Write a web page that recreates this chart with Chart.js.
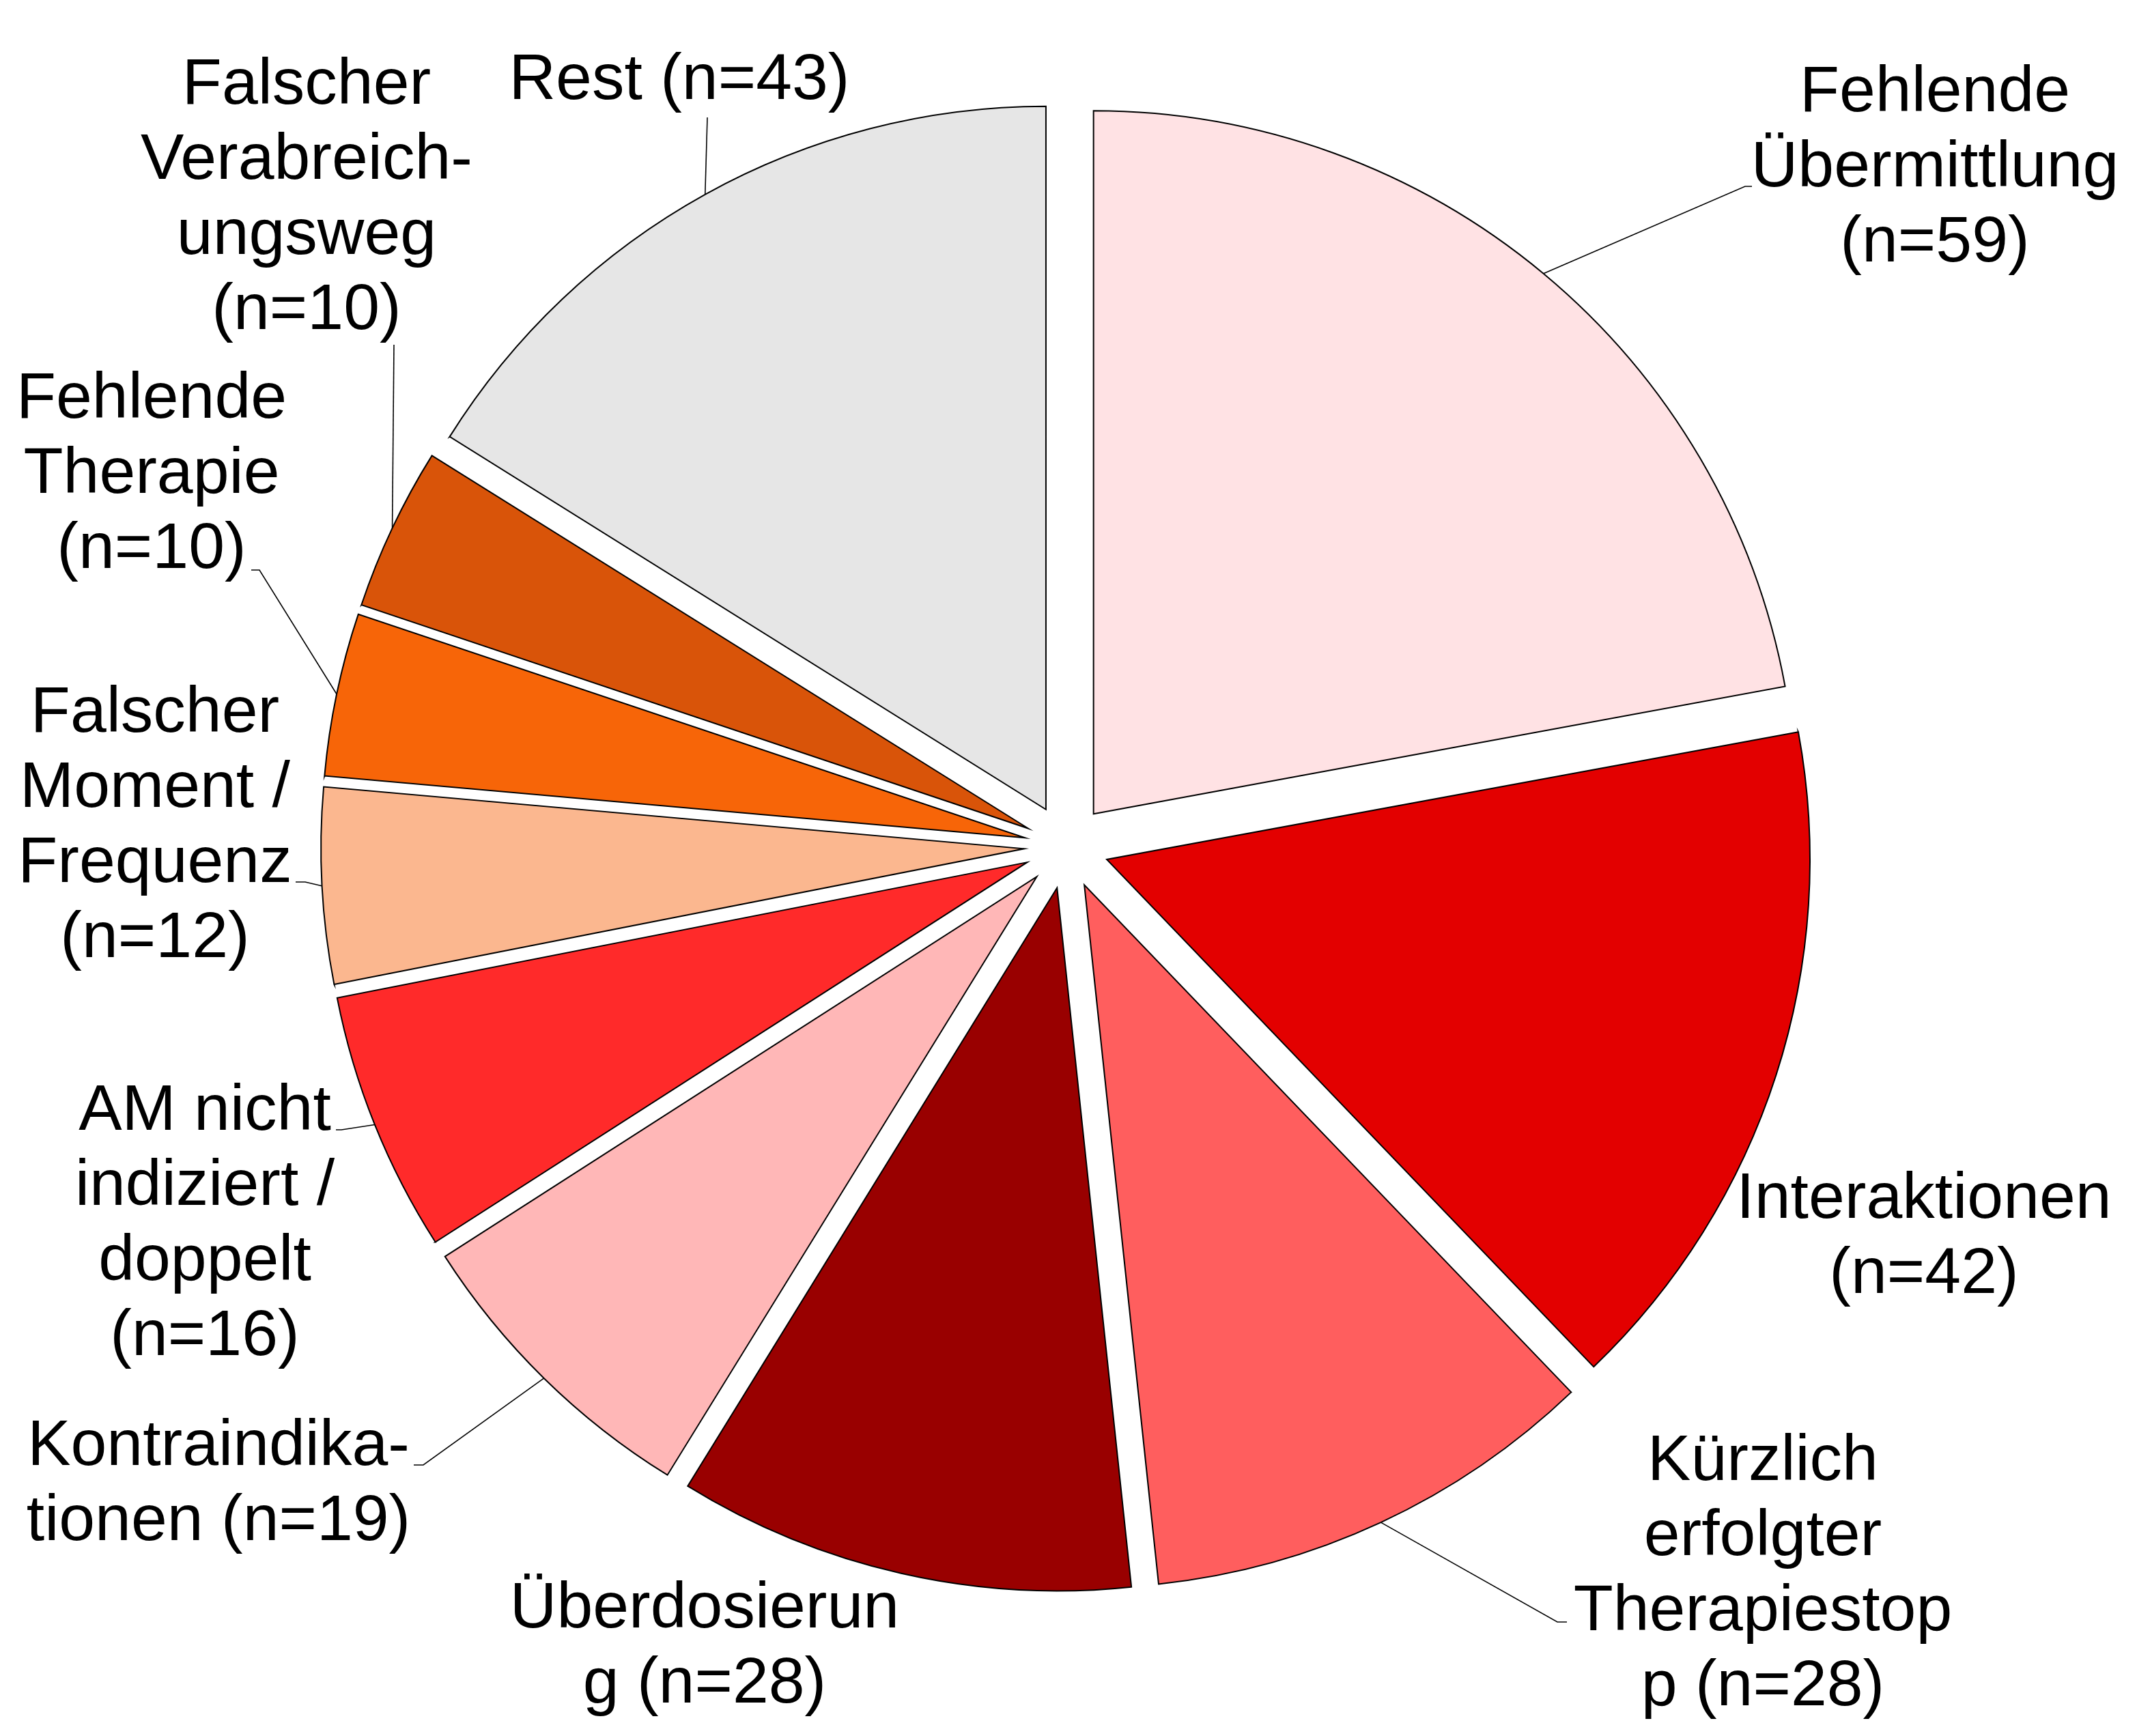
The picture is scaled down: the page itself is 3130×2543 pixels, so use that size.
<!DOCTYPE html>
<html>
<head>
<meta charset="utf-8">
<script src="https://cdn.jsdelivr.net/npm/chart.js@4.4.0/dist/chart.umd.min.js"></script>
<style>
  html, body { margin: 0; padding: 0; background: #ffffff; }
  #wrap { width: 3130px; height: 2543px; }
</style>
</head>
<body>
<div id="wrap"><canvas id="c" width="3130" height="2543"></canvas></div>
<script>
// ---- data ----
const categories = [
  'Fehlende Übermittlung', 'Interaktionen', 'Kürzlich erfolgter Therapiestopp',
  'Überdosierung', 'Kontraindikationen', 'AM nicht indiziert / doppelt',
  'Falscher Moment / Frequenz', 'Fehlende Therapie', 'Falscher Verabreichungsweg', 'Rest'
];
const counts = [59, 42, 28, 28, 19, 16, 12, 10, 10, 43];
// wrapped display text of each label; {n} is replaced by "(n=<count>)"
const labelLines = [
  ['Fehlende', 'Übermittlung', '{n}'],
  ['Interaktionen', '{n}'],
  ['Kürzlich', 'erfolgter', 'Therapiestop', 'p {n}'],
  ['Überdosierun', 'g {n}'],
  ['Kontraindika-', 'tionen {n}'],
  ['AM nicht', 'indiziert /', 'doppelt', '{n}'],
  ['Falscher', 'Moment /', 'Frequenz', '{n}'],
  ['Fehlende', 'Therapie', '{n}'],
  ['Falscher', 'Verabreich-', 'ungsweg', '{n}'],
  ['Rest {n}']
];

// ---- styles ----
const sliceColors = ['#FFE2E4', '#E30000', '#FF5E5E', '#990000', '#FFB7B7',
                     '#FF2A2A', '#FBB78F', '#F76508', '#D95409', '#E6E6E6'];
const FONT = '95px "Liberation Sans", Arial, sans-serif';
const LINE_H = 110;
const RADIUS = 1030;
const EXPLODE = 62;
// label placement relative to the pie centre: text = [centre x, first baseline],
// elbow/end = leader-line bend and end point (null = no leader line)
const labelLayout = [
  { text: [1272, -1077], elbow: [994, -967],  end: [1004, -967] },
  { text: [1256, 544],   elbow: null,         end: null },
  { text: [1020, 928],   elbow: [719, 1136],  end: [733, 1136] },
  { text: [-530, 1144],  elbow: null,         end: null },
  { text: [-1242, 906],  elbow: [-942, 906],  end: [-956, 906] },
  { text: [-1262, 415],  elbow: [-1062, 415], end: [-1070, 415] },
  { text: [-1335, -168], elbow: [-1115, 52],  end: [-1129, 52] },
  { text: [-1340, -628], elbow: [-1182, -405], end: [-1194, -405] },
  { text: [-1113, -1088], elbow: [-985, -735], end: [-985, -735] },
  { text: [-567, -1095], elbow: [-526, -1068], end: [-526, -1068] }
];

const whiteBg = {
  id: 'whiteBg',
  beforeDraw(chart) {
    const ctx = chart.ctx;
    ctx.save();
    ctx.fillStyle = '#ffffff';
    ctx.fillRect(0, 0, chart.width, chart.height);
    ctx.restore();
  }
};

// move every slice outward by the same distance along its mid angle
const explode = {
  id: 'explode',
  afterDatasetsUpdate(chart) {
    const ca = chart.chartArea;
    const cx = (ca.left + ca.right) / 2, cy = (ca.top + ca.bottom) / 2;
    chart.getDatasetMeta(0).data.forEach(arc => {
      const mid = (arc.startAngle + arc.endAngle) / 2;
      arc.x = cx + EXPLODE * Math.cos(mid);
      arc.y = cy + EXPLODE * Math.sin(mid);
    });
  }
};

const outerLabels = {
  id: 'outerLabels',
  afterDatasetsDraw(chart) {
    const ctx = chart.ctx;
    const ca = chart.chartArea;
    const cx = (ca.left + ca.right) / 2, cy = (ca.top + ca.bottom) / 2;
    const meta = chart.getDatasetMeta(0);
    ctx.save();
    meta.data.forEach((arc, i) => {
      const lay = labelLayout[i];
      if (lay.elbow) {
        const mid = (arc.startAngle + arc.endAngle) / 2;
        const sx = arc.x + arc.outerRadius * Math.cos(mid);
        const sy = arc.y + arc.outerRadius * Math.sin(mid);
        ctx.beginPath();
        ctx.moveTo(sx, sy);
        ctx.lineTo(cx + lay.elbow[0], cy + lay.elbow[1]);
        ctx.lineTo(cx + lay.end[0], cy + lay.end[1]);
        ctx.strokeStyle = '#000000';
        ctx.lineWidth = 1.6;
        ctx.stroke();
      }
      ctx.font = FONT;
      ctx.fillStyle = '#000000';
      ctx.textAlign = 'center';
      ctx.textBaseline = 'alphabetic';
      const n = '(n=' + chart.data.datasets[0].data[i] + ')';
      labelLines[i].forEach((line, k) => {
        ctx.fillText(line.replace('{n}', n), cx + lay.text[0], cy + lay.text[1] + k * LINE_H);
      });
    });
    ctx.restore();
  }
};

new Chart(document.getElementById('c'), {
  type: 'pie',
  data: {
    labels: categories,
    datasets: [{
      data: counts,
      backgroundColor: sliceColors,
      borderColor: '#000000',
      borderWidth: 2,
      borderJoinStyle: 'miter',
      offset: 0,
      hoverOffset: 0
    }]
  },
  options: {
    responsive: false,
    devicePixelRatio: 1,
    animation: false,
    events: [],
    radius: RADIUS,
    layout: { padding: { left: 0, right: 6, top: 0, bottom: 63 } },
    plugins: {
      legend: { display: false },
      tooltip: { enabled: false }
    }
  },
  plugins: [whiteBg, explode, outerLabels]
});
</script>
</body>
</html>
